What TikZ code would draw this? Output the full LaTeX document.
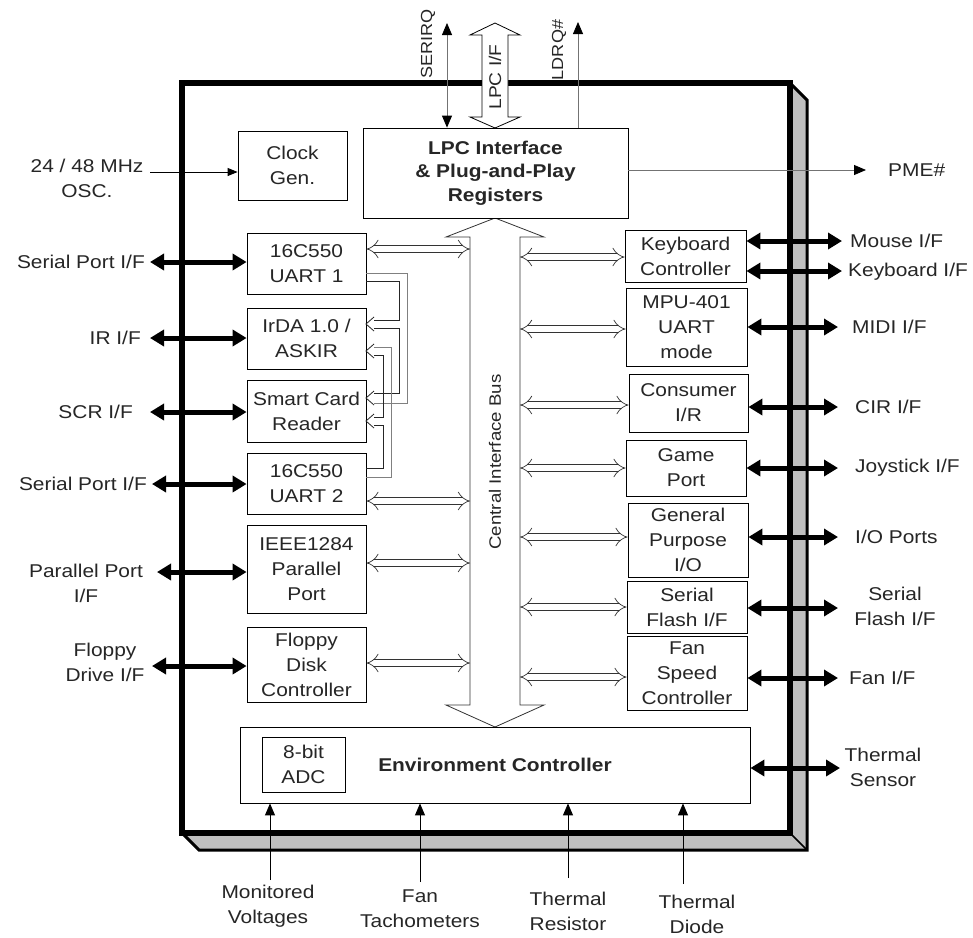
\documentclass[tikz,border=0pt]{standalone}
\usepackage{fontspec}
\setmainfont{Liberation Sans}[FakeStretch=1.13]
\usetikzlibrary{arrows.meta}
\tikzset{ohead/.pic={\draw[black!85, line width=0.8pt] (8,-7) -- (0,0) -- (8,7);}}
\begin{document}
\begin{tikzpicture}[x=1pt,y=-1pt,
  txt/.style={font=\fontsize{18.5}{25}\selectfont, text=black!85, inner sep=0pt, align=center},
  btxt/.style={txt, font=\fontsize{18.5}{23.5}\selectfont\bfseries},
  rtxt/.style={txt, rotate=90},
  blk/.style={txt, draw=black, line width=0.8pt, fill=white, minimum width=119pt},
  rblk/.style={blk, minimum width=120pt},
  iface/.style={line width=5pt, {Triangle[length=14pt,width=16pt]}-{Triangle[length=14pt,width=16pt]}},
  thinarr/.style={line width=0.9pt, -{Triangle[length=12pt,width=10pt]}},
  busarr/.style={draw=black!80, line width=0.7pt, double=white, double distance=6pt, {Implies}-{Implies}},
  wallk/.style={draw=black!85, line width=0.8pt},
  wallg/.style={draw=black!50, line width=0.8pt},
]
\useasboundingbox (0,0) rectangle (973,937);
\fill[white] (0,0) rectangle (973,937);

% chip body with 3D shadow
\fill[black!25] (790,83) -- (807,100) -- (807,850) -- (199,850) -- (182,833) -- (790,833) -- cycle;
\draw[line width=3pt, line join=miter] (790,83) -- (807,100) -- (807,850) -- (199,850) -- (182,833);
\draw[line width=1.5pt] (790,833) -- (807,850);
\draw[line width=6pt, fill=white] (182,83) rectangle (790,833);

% central interface bus
\draw[line width=0.8pt, draw=black!80, fill=white] (495,218) -- (544,237) -- (520,237) -- (520,705) -- (544,705) -- (495,727) -- (446,705) -- (470,705) -- (470,237) -- (446,237) -- cycle;
\node[rtxt, font=\fontsize{16.5}{20}\selectfont] (cib) at (495,462) {Central Interface Bus};
\coordinate (busL) at (470,0);
\coordinate (busR) at (520,0);

% blocks
\node[blk, minimum width=109pt, minimum height=69pt] (clock) at (292.5,165.5) {Clock\\Gen.};
\node[blk, minimum width=265pt, minimum height=90pt, font=\fontsize{18.5}{23.5}\selectfont\bfseries] (lpc) at (495.5,173) {LPC Interface\\\& Plug-and-Play\\Registers};

\node[blk, minimum height=61pt] (uart1) at (306.5,263.5) {16C550\\UART 1};
\node[blk, minimum height=61pt] (irda) at (306.5,338.5) {IrDA 1.0 /\\ASKIR};
\node[blk, minimum height=62pt] (scr) at (306.5,411) {Smart Card\\Reader};
\node[blk, minimum height=61pt] (uart2) at (306.5,483.5) {16C550\\UART 2};
\node[blk, minimum height=88pt] (ieee) at (306.5,569) {IEEE1284\\Parallel\\Port};
\node[blk, minimum height=75pt] (fdc) at (306.5,664.5) {Floppy\\Disk\\Controller};

\node[rblk, minimum width=121pt, minimum height=52pt] (kbc) at (685.5,256) {Keyboard\\Controller};
\node[rblk, minimum width=121pt, minimum height=78pt] (mpu) at (686.5,327) {MPU-401\\UART\\mode};
\node[rblk, minimum width=119pt, minimum height=58pt] (cir) at (688.5,403) {Consumer\\I/R};
\node[rblk, minimum height=56pt] (game) at (686,468) {Game\\Port};
\node[rblk, minimum height=74pt] (gpio) at (688,540) {General\\Purpose\\I/O};
\node[rblk, minimum height=52pt] (sflash) at (687,607) {Serial\\Flash I/F};
\node[rblk, minimum height=74pt] (fan) at (687,673) {Fan\\Speed\\Controller};

\node[blk, minimum width=510pt, minimum height=76pt] (env) at (495,765) {};
\node[btxt] (envt) at (495,765) {Environment Controller};
\node[blk, minimum width=83pt, minimum height=55pt] (adc) at (303.5,764.5) {8-bit\\ADC};

% bus connections
\draw[busarr] (uart1.east |- 0,249) -- (busL |- 0,249);
\draw[busarr] (uart2.east |- 0,501) -- (busL |- 0,501);
\draw[busarr] (ieee.east |- 0,563) -- (busL |- 0,563);
\draw[busarr] (fdc.east |- 0,663) -- (busL |- 0,663);
\draw[busarr] (busR |- 0,257) -- (kbc.west |- 0,257);
\draw[busarr] (busR |- 0,329) -- (mpu.west |- 0,329);
\draw[busarr] (busR |- 0,405) -- (cir.west |- 0,405);
\draw[busarr] (busR |- 0,468) -- (game.west |- 0,468);
\draw[busarr] (busR |- 0,537) -- (gpio.west |- 0,537);
\draw[busarr] (busR |- 0,607) -- (sflash.west |- 0,607);
\draw[busarr] (busR |- 0,677) -- (fan.west |- 0,677);

% UART1 -> IrDA / Smart Card pipe
\draw[wallg] (366,273) -- (407,273) -- (407,403) -- (374,403);
\draw[wallk] (366,281) -- (399,281) -- (399,320) -- (374,320);
\draw[wallk] (374,328) -- (399,328) -- (399,393) -- (374,393);
\pic at (366,324) {ohead};
\pic at (366,398) {ohead};
% UART2 -> Smart Card / IrDA pipe
\draw[wallg] (366,477) -- (391,477) -- (391,347) -- (374,347);
\draw[wallk] (366,468) -- (383,468) -- (383,425) -- (374,425);
\draw[wallk] (374,417) -- (383,417) -- (383,355) -- (374,355);
\pic at (366,421) {ohead};
\pic at (366,351) {ohead};

% top signals
\coordinate (seri) at (447,23);
\coordinate (ldrq) at (578,22);
\draw[line width=0.8pt, draw=black!55, {Triangle[length=12pt,width=10pt,black]}-{Triangle[length=12pt,width=10pt,black]}] (seri) -- (lpc.north -| seri);
\draw[line width=0.8pt, draw=black!55, -{Triangle[length=12pt,width=10pt,black]}] (lpc.north -| ldrq) -- (ldrq);
\draw[line width=0.8pt, fill=white] (495,23) -- (520,35) -- (508,35) -- (508,117) -- (520,117) -- (495,128) -- (470,117) -- (482,117) -- (482,35) -- (470,35) -- cycle;
\node[rtxt, font=\fontsize{16}{18}\selectfont] (serl) at (428,44) {SERIRQ};
\node[rtxt, font=\fontsize{17}{18}\selectfont] (lpcl) at (495,77) {LPC I/F};
\node[rtxt, font=\fontsize{16}{18}\selectfont] (ldrl) at (559,50) {LDRQ\#};

% PME#
\coordinate (pme) at (866,170);
\draw[line width=0.8pt, draw=black!55, -{Triangle[length=12pt,width=10pt,black]}] (lpc.east |- pme) -- (pme);
\node[txt, anchor=west] (pmel) at (888,170) {PME\#};

% oscillator
\coordinate (osc) at (150,172);
\draw[thinarr, -{Triangle[length=10pt,width=8pt]}] (osc) -- (clock.west |- osc);
\node[txt] (oscl) at (87,178) {24 / 48 MHz\\OSC.};

% left interfaces
\coordinate (l1) at (150,262);
\coordinate (l2) at (150,338);
\coordinate (l3) at (150,412);
\coordinate (l4) at (152,484);
\coordinate (l5) at (157,572);
\coordinate (l6) at (152,666);
\draw[iface] (l1) -- (uart1.west |- l1);
\draw[iface] (l2) -- (irda.west |- l2);
\draw[iface] (l3) -- (scr.west |- l3);
\draw[iface] (l4) -- (uart2.west |- l4);
\draw[iface] (l5) -- (ieee.west |- l5);
\draw[iface] (l6) -- (fdc.west |- l6);
\node[txt, anchor=east] (l1t) at (145,262) {Serial Port I/F};
\node[txt, anchor=east] (l2t) at (141,338) {IR I/F};
\node[txt, anchor=east] (l3t) at (133,412) {SCR I/F};
\node[txt, anchor=east] (l4t) at (147,484) {Serial Port I/F};
\node[txt] (l5t) at (86,583) {Parallel Port\\I/F};
\node[txt] (l6t) at (105,662) {Floppy\\Drive I/F};

% right interfaces
\coordinate (r1) at (842,241);
\coordinate (r2) at (842,271);
\coordinate (r3) at (838,327);
\coordinate (r4) at (838,407);
\coordinate (r5) at (838,468);
\coordinate (r6) at (838,537);
\coordinate (r7) at (838,608);
\coordinate (r8) at (838,678);
\coordinate (r9) at (840,768);
\draw[iface] (kbc.east |- r1) -- (r1);
\draw[iface] (kbc.east |- r2) -- (r2);
\draw[iface] (mpu.east |- r3) -- (r3);
\draw[iface] (cir.east |- r4) -- (r4);
\draw[iface] (game.east |- r5) -- (r5);
\draw[iface] (gpio.east |- r6) -- (r6);
\draw[iface] (sflash.east |- r7) -- (r7);
\draw[iface] (fan.east |- r8) -- (r8);
\draw[iface] (env.east |- r9) -- (r9);
\node[txt, anchor=west] (r1t) at (850,241) {Mouse I/F};
\node[txt, anchor=west] (r2t) at (848,272) {Keyboard I/F};
\node[txt, anchor=west] (r3t) at (852,327) {MIDI I/F};
\node[txt, anchor=west] (r4t) at (855,407) {CIR I/F};
\node[txt, anchor=west] (r5t) at (855,468) {Joystick I/F};
\node[txt, anchor=west] (r6t) at (855,537) {I/O Ports};
\node[txt] (r7t) at (895,606) {Serial\\Flash I/F};
\node[txt, anchor=west] (r8t) at (849,678) {Fan I/F};
\node[txt] (r9t) at (883,767) {Thermal\\Sensor};

% bottom inputs
\coordinate (b1) at (270,880);
\coordinate (b2) at (420,882);
\coordinate (b3) at (568,878);
\coordinate (b4) at (683,884);
\draw[thinarr] (b1) -- (env.south -| b1);
\draw[thinarr] (b2) -- (env.south -| b2);
\draw[thinarr] (b3) -- (env.south -| b3);
\draw[thinarr] (b4) -- (env.south -| b4);
\node[txt] (b1t) at (268,906) {Monitored\\Voltages};
\node[txt] (b2t) at (420,909) {Fan\\Tachometers};
\node[txt] (b3t) at (568,911) {Thermal\\Resistor};
\node[txt] (b4t) at (697,914) {Thermal\\Diode};
\end{tikzpicture}
\end{document}
